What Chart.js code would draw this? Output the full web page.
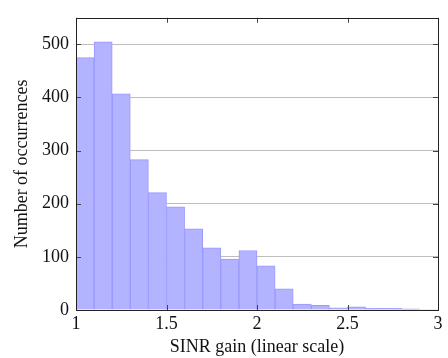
<!DOCTYPE html>
<html>
<head>
<meta charset="utf-8">
<script src="https://cdn.jsdelivr.net/npm/chart.js@4"></script>
<style>
  html, body { margin: 0; padding: 0; background: #fff; }
  #wrap { width: 448px; height: 358px; }
</style>
</head>
<body>
<div id="wrap"><canvas id="myChart1" width="448" height="358"></canvas></div>
<script>
// histogram bins (centres) and counts
const binCenters = [1.05, 1.15, 1.25, 1.35, 1.45, 1.55, 1.65, 1.75, 1.85, 1.95,
                    2.05, 2.15, 2.25, 2.35, 2.45, 2.55, 2.65, 2.75, 2.85, 2.95];
const counts = [475, 505, 407, 283, 221, 194, 153, 117, 96, 112,
                83, 40, 11, 9, 4, 6, 3, 3, 2, 1];
const xTicks = [1, 1.5, 2, 2.5, 3];
const yTicks = [0, 100, 200, 300, 400, 500];

const serif = "'Liberation Serif', 'DejaVu Serif', serif";

// frame around the plot with small inward ticks (pgfplots look)
const framePlugin = {
    id: 'frame',
    afterDraw(chart) {
        const ctx = chart.ctx;
        const a = chart.chartArea;
        const xs = chart.scales.x, ys = chart.scales.y;
        ctx.save();
        ctx.strokeStyle = '#444';
        ctx.lineWidth = 1;
        ctx.beginPath();
        xTicks.forEach(v => {
            const px = Math.round(xs.getPixelForValue(v)) + 0.5;
            ctx.moveTo(px, a.top); ctx.lineTo(px, a.top + 5);
            ctx.moveTo(px, a.bottom); ctx.lineTo(px, a.bottom - 5);
        });
        yTicks.forEach(v => {
            const py = Math.round(ys.getPixelForValue(v)) + 0.5;
            ctx.moveTo(a.left, py); ctx.lineTo(a.left + 5, py);
            ctx.moveTo(a.right, py); ctx.lineTo(a.right - 5, py);
        });
        ctx.stroke();
        ctx.strokeStyle = '#222';
        ctx.strokeRect(Math.round(a.left) + 0.5, Math.round(a.top) + 0.5,
                       Math.round(a.right - a.left), Math.round(a.bottom - a.top));
        ctx.restore();
    }
};

const canvas = document.getElementById('myChart1');
const ctx1 = canvas.getContext('2d');

new Chart(ctx1, {
    type: 'bar',
    data: {
        datasets: [{
            data: binCenters.map((c, i) => ({ x: c, y: counts[i] })),
            backgroundColor: '#b3b3ff',
            borderColor: '#9999ff',
            borderWidth: 1,
            barPercentage: 1,
            categoryPercentage: 1
        }]
    },
    options: {
        responsive: false,
        animation: false,
        layout: { padding: { top: 9, right: 10, left: 11, bottom: 0 } },
        plugins: { legend: { display: false }, tooltip: { enabled: false } },
        scales: {
            x: {
                type: 'linear',
                offset: false,
                min: 1, max: 3,
                afterBuildTicks: s => { s.ticks = xTicks.map(v => ({ value: v })); },
                afterFit: s => { s.height = 48; },
                grid: { display: false, drawTicks: false },
                border: { display: false },
                ticks: {
                    color: '#111',
                    padding: 3,
                    maxRotation: 0,
                    font: { family: serif, size: 18 },
                    callback: v => String(v)
                },
                title: {
                    display: true,
                    text: 'SINR gain (linear scale)',
                    color: '#111',
                    padding: { top: 2, bottom: 0 },
                    font: { family: serif, size: 18 }
                }
            },
            y: {
                min: 0, max: 550,
                afterBuildTicks: s => { s.ticks = yTicks.map(v => ({ value: v })); },
                afterFit: s => { s.width = 65; },
                grid: { color: '#bdbdbd', drawTicks: false },
                border: { display: false },
                ticks: {
                    color: '#111',
                    padding: 7,
                    font: { family: serif, size: 18 }
                },
                title: {
                    display: true,
                    text: 'Number of occurrences',
                    color: '#111',
                    padding: { top: 0, bottom: 4 },
                    font: { family: serif, size: 18 }
                }
            }
        }
    },
    plugins: [framePlugin]
});
</script>
</body>
</html>
